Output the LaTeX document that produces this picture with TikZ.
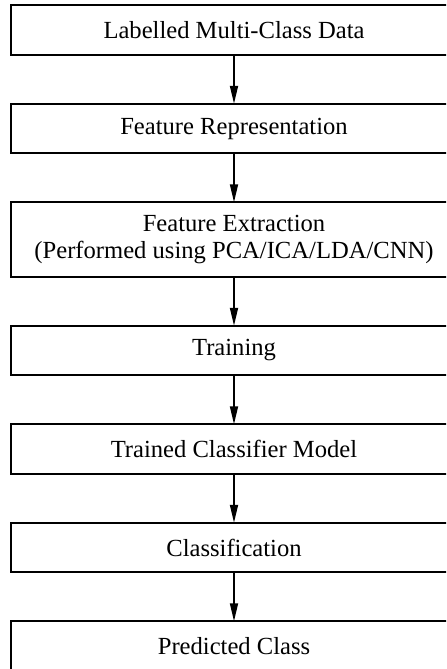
\documentclass[tikz,border=0pt]{standalone}
\usepackage{fontspec}
\setmainfont{Liberation Serif}
\usetikzlibrary{arrows.meta, positioning}

\begin{document}
\begin{tikzpicture}[
    box/.style={draw, line width=0.9pt, outer sep=0pt, minimum width=223pt, minimum height=24.75pt, inner sep=1pt, align=center, font=\fontsize{12.3}{13.5}\selectfont},
    flow/.style={-{Triangle[length=9pt, width=4pt]}, line width=0.9pt},
    node distance=24.5pt
]
    % Page frame (boxes run past the right and bottom edges)
    \useasboundingbox (0,0) rectangle (223pt,-334.5pt);
    \clip (0,0) rectangle (223pt,-334.5pt);

    % Stages
    \node[box] (data) at (117pt,-15pt) {Labelled Multi-Class Data};
    \node[box, below=of data] (repr) {Feature Representation};
    \node[box, below=of repr, minimum height=37.25pt] (extr) {Feature Extraction\\(Performed using PCA/ICA/LDA/CNN)};
    \node[box, below=of extr] (train) {Training};
    \node[box, below=of train] (model) {Trained Classifier Model};
    \node[box, below=of model] (classif) {Classification};
    \node[box, below=of classif] (pred) {Predicted Class};

    % Arrows between stages
    \draw[flow] (data) -- (repr);
    \draw[flow] (repr) -- (extr);
    \draw[flow] (extr) -- (train);
    \draw[flow] (train) -- (model);
    \draw[flow] (model) -- (classif);
    \draw[flow] (classif) -- (pred);
\end{tikzpicture}
\end{document}
